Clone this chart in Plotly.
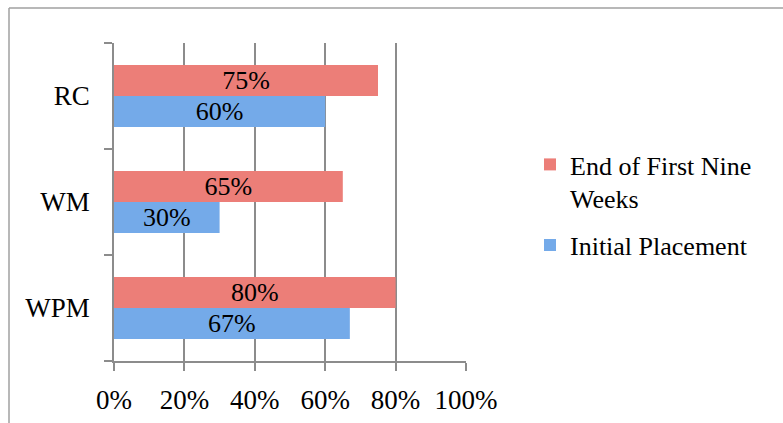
import plotly.graph_objects as go

# Reading-skill categories (bottom to top on the axis)
categories = ["WPM", "WM", "RC"]
initial_placement = [67, 30, 60]
end_first_nine_weeks = [80, 65, 75]
x_ticks = [0, 20, 40, 60, 80, 100]
x_tick_labels = [f"{v}%" for v in x_ticks]

FONT = "Liberation Serif"
W, H = 783, 423
L, R, T, B = 114, 317, 43, 62
pw, ph = W - L - R, H - T - B

fig = go.Figure()
fig.add_trace(go.Bar(
    y=categories, x=initial_placement, orientation="h",
    name="Initial Placement", legendgroup="a", legendrank=2,
    marker=dict(color="#74aae9", line=dict(width=0)),
    text=[f"{v}%" for v in initial_placement], texttemplate="%{text}",
    textposition="inside", insidetextanchor="middle",
    constraintext="none", textfont=dict(family=FONT, size=26, color="black"),
))
fig.add_trace(go.Bar(
    y=categories, x=end_first_nine_weeks, orientation="h",
    name="End of First Nine<br>Weeks", legendgroup="b", legendrank=1,
    marker=dict(color="#ec7e78", line=dict(width=0)),
    text=[f"{v}%" for v in end_first_nine_weeks], texttemplate="%{text}",
    textposition="inside", insidetextanchor="middle",
    constraintext="none", textfont=dict(family=FONT, size=26, color="black"),
))

# Outer chart frame (left and top edges)
fx0 = (9 - L) / pw
fy1 = 1 + (T - 8) / ph
fig.add_shape(type="line", xref="paper", yref="paper",
              x0=fx0, x1=(W - L + 5) / pw, y0=fy1, y1=fy1,
              line=dict(color="#a0a0a0", width=1.5))
fig.add_shape(type="line", xref="paper", yref="paper",
              x0=fx0, x1=fx0, y0=fy1, y1=-(B + 5) / ph,
              line=dict(color="#a0a0a0", width=1.5))

fig.update_layout(
    width=W, height=H,
    margin=dict(l=L, r=R, t=T, b=B, autoexpand=False),
    paper_bgcolor="white", plot_bgcolor="white",
    barmode="group", bargap=0.415, bargroupgap=0,
    font=dict(family=FONT, size=25, color="black"),
    showlegend=True,
    legend=dict(
        x=(530 - L) / pw, y=1 - (141 - T) / ph, xanchor="left", yanchor="top",
        traceorder="grouped", tracegroupgap=10, valign="top",
        font=dict(family=FONT, size=26, color="black"),
        itemwidth=30, bgcolor="rgba(0,0,0,0)",
    ),
    xaxis=dict(
        range=[0, 100], tickvals=x_ticks, ticktext=x_tick_labels,
        showgrid=True, gridcolor="#8c8c8c", gridwidth=1.5,
        showline=True, linecolor="#8c8c8c", linewidth=1.5,
        ticks="outside", ticklen=8, tickcolor="#8c8c8c", tickwidth=1.5,
        zeroline=False, tickfont=dict(family=FONT, size=27),
        ticklabelstandoff=6, automargin=False,
    ),
    yaxis=dict(
        type="category", categoryorder="array", categoryarray=categories,
        range=[-0.5, 2.5], tickson="boundaries",
        showline=True, linecolor="#8c8c8c", linewidth=1.5,
        ticks="outside", ticklen=8, tickcolor="#8c8c8c", tickwidth=1.5,
        showgrid=False, zeroline=False, tickfont=dict(family=FONT, size=27),
        ticklabelstandoff=17, automargin=False,
    ),
)

fig.write_html("out.html")
